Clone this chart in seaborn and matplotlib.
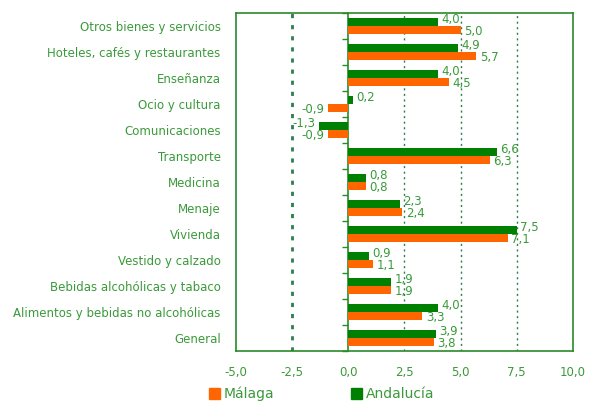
import matplotlib
matplotlib.use("Agg")
import matplotlib.pyplot as plt
import seaborn as sns
import pandas as pd
from matplotlib.patches import Patch

categories = ["Otros bienes y servicios", "Hoteles, cafés y restaurantes", "Enseñanza",
              "Ocio y cultura", "Comunicaciones", "Transporte", "Medicina", "Menaje",
              "Vivienda", "Vestido y calzado", "Bebidas alcohólicas y tabaco",
              "Alimentos y bebidas no alcohólicas", "General"]
andalucia = [4.0, 4.9, 4.0, 0.2, -1.3, 6.6, 0.8, 2.3, 7.5, 0.9, 1.9, 4.0, 3.9]
malaga = [5.0, 5.7, 4.5, -0.9, -0.9, 6.3, 0.8, 2.4, 7.1, 1.1, 1.9, 3.3, 3.8]
series = ["Andalucía", "Málaga"]
xticks = [-5.0, -2.5, 0.0, 2.5, 5.0, 7.5, 10.0]

GREEN = "#008000"
ORANGE = "#FF6600"
TXT = "#3a9a3a"
FRAME = "#2a8a2a"

df = pd.DataFrame({
    "cat": categories * 2,
    "val": andalucia + malaga,
    "serie": [series[0]] * len(categories) + [series[1]] * len(categories),
})

sns.set_style("white")
plt.rcParams["font.family"] = ["DejaVu Sans"]

fig = plt.figure(figsize=(5.9, 4.03), dpi=100)
ax = fig.add_axes([0.4, 0.129, 0.571, 0.839])

sns.barplot(data=df, y="cat", x="val", hue="serie", hue_order=series,
            palette=[GREEN, ORANGE], orient="h", width=0.6, ax=ax,
            legend=False, saturation=1, edgecolor="none")

ax.set_xlim(-5, 10)
ax.set_ylim(len(categories) - 0.5, -0.5)
ax.set_xticks(xticks)
ax.set_xticklabels([f"{t:.1f}".replace(".", ",") for t in xticks])
ax.set_xlabel("")
ax.set_ylabel("")

for s in ax.spines.values():
    s.set_color(FRAME)
    s.set_linewidth(1.2)

ax.tick_params(axis="x", colors=FRAME, labelcolor=TXT, labelsize=8.5, length=3,
               width=1, direction="out", pad=8)
ax.tick_params(axis="y", length=0, labelcolor=TXT, labelsize=8.5, pad=11)

# dotted gridlines
ax.set_axisbelow(True)
for t in xticks:
    if t in (-5.0, 0.0, 10.0):
        continue
    ax.axvline(t, color="#2e7d4f", linestyle=(0, (1.5, 2.5)),
               linewidth=2 if t < 0 else 1, zorder=0)

# zero line with category-boundary ticks
sec = ax.secondary_yaxis(0, transform=ax.transData)
sec.set_yticks([i + 0.5 for i in range(-1, len(categories))])
sec.set_yticklabels([])
sec.spines["left"].set_color(FRAME)
sec.spines["left"].set_linewidth(1.2)
sec.tick_params(axis="y", colors=FRAME, length=4, width=1, direction="out")

# value labels
offsets = {0: 1.8, 1: -1.2}
for ci, cont in enumerate(ax.containers):
    for bar in cont:
        w = bar.get_width()
        yc = bar.get_y() + bar.get_height() / 2
        lab = f"{w:.1f}".replace(".", ",")
        if w >= 0:
            ax.annotate(lab, (w, yc), xytext=(2.5, offsets[ci]), textcoords="offset points",
                        ha="left", va="center", color=TXT, fontsize=8.5)
        else:
            ax.annotate(lab, (w, yc), xytext=(-2.5, offsets[ci]), textcoords="offset points",
                        ha="right", va="center", color=TXT, fontsize=8.5)

handles = [Patch(color=ORANGE, label="Málaga"), Patch(color=GREEN, label="Andalucía")]
fig.legend(handles=handles, loc="center", bbox_to_anchor=(0.545, 0.022), ncol=2,
           frameon=False, fontsize=10, handlelength=0.8, handleheight=0.8,
           handletextpad=0.3, columnspacing=5.5, labelcolor=TXT, borderaxespad=0)

fig.savefig("out.png", dpi=100)
